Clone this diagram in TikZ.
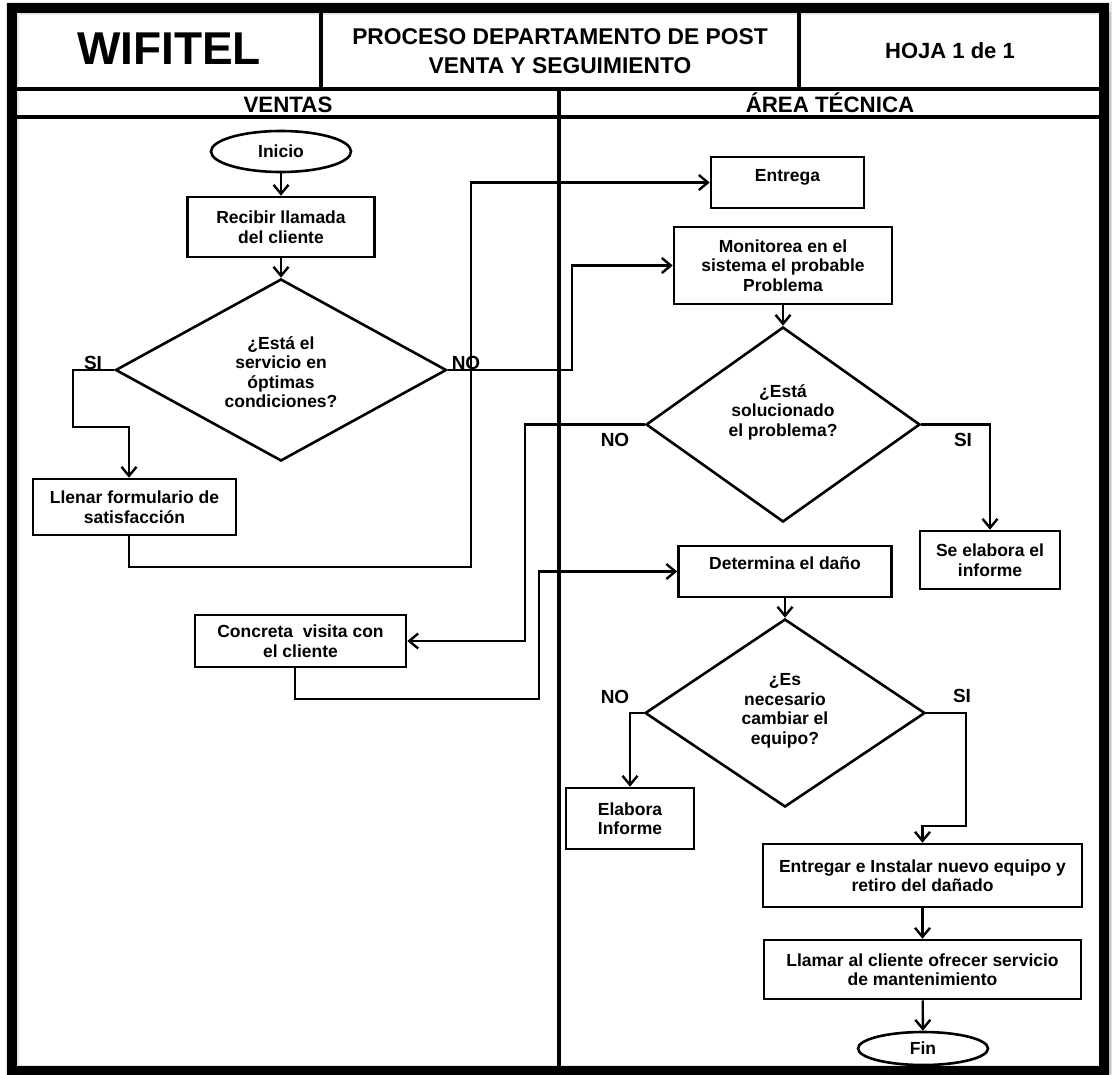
\documentclass[tikz,border=0pt]{standalone}
\usepackage{fontspec}
\setmainfont{Liberation Sans}
\usetikzlibrary{shapes.geometric,arrows.meta}

\begin{document}
\begin{tikzpicture}[x=1pt,y=-1pt,
  every node/.style={font=\bfseries},
  bodyfont/.style={font=\bfseries\fontsize{17.5}{19.5}\selectfont},
  procbox/.style={draw, rectangle, line width=2.6pt, inner sep=0pt, align=center, bodyfont},
  term/.style={draw, ellipse, line width=2.6pt, inner sep=0pt, bodyfont},
  decision/.style={draw, diamond, line width=2.6pt, inner sep=0pt},
  dtext/.style={align=center, inner sep=0pt, bodyfont},
  tag/.style={inner sep=0pt, font=\bfseries\fontsize{19}{21}\selectfont},
  lanefont/.style={anchor=base, inner sep=0pt, font=\bfseries\fontsize{22.3}{26}\selectfont},
  flow/.style={line width=2.4pt, -{Straight Barb[length=9pt,width=15pt]}},
  rule/.style={line width=4pt},
]
\useasboundingbox (0,0) rectangle (1118,1074);

% faint halo and heavy outer frame
\draw[line width=13pt, black!10] (12,8) rectangle (1105,1071);
\fill[black!25] (1108,12) rectangle (1111,1074);
\draw[line width=10pt] (12,8) rectangle (1104,1071);

% header rows and lane divider
\draw[rule] (17,89) -- (1099,89);
\draw[rule] (17,117) -- (1099,117);
\draw[rule] (321,13) -- (321,89);
\draw[rule] (799,13) -- (799,89);
\draw[rule] (559,89) -- (559,1066);

% header texts
\node[inner sep=0pt, font=\bfseries\fontsize{46}{50}\selectfont] (brand) at (169,49) {WIFITEL};
\node[align=center, inner sep=0pt, font=\bfseries\fontsize{22.8}{29}\selectfont] (title) at (560,51) {PROCESO DEPARTAMENTO DE POST\\VENTA Y SEGUIMIENTO};
\node[inner sep=0pt, font=\bfseries\fontsize{22}{26}\selectfont] (sheet) at (950,51) {HOJA 1 de 1};
\node[lanefont] (laneA) at (288,112) {VENTAS};
\node[lanefont] (laneB) at (830,112) {ÁREA TÉCNICA};

% sales lane
\node[term, minimum width=140pt, minimum height=41pt] (inicio) at (281,151.5) {Inicio};
\node[procbox, minimum width=187pt, minimum height=60pt] (recibir) at (281,227) {Recibir llamada\\del cliente};
\node[decision, minimum width=331pt, minimum height=182pt] (d1) at (281,370) {};
\node[dtext] (d1txt) at (281,372) {¿Está el\\servicio en\\óptimas\\condiciones?};
\node[procbox, minimum width=203pt, minimum height=56pt] (llenar) at (134.5,507) {Llenar formulario de\\satisfacción};
\node[procbox, minimum width=211pt, minimum height=52pt] (visita) at (300.5,641) {Concreta\ \ visita con\\el cliente};

% technical lane
\node[procbox, minimum width=153pt, minimum height=51pt, text height=12pt, text depth=15pt] (entrega) at (787.5,182.5) {Entrega};
\node[procbox, minimum width=218pt, minimum height=77pt] (monitor) at (783,265.5) {Monitorea en el\\sistema el probable\\Problema};
\node[decision, minimum width=274pt, minimum height=195pt] (d2) at (783,424.5) {};
\node[dtext] (d2txt) at (783,412) {¿Está\\solucionado\\el problema?};
\node[procbox, minimum width=140pt, minimum height=58pt] (informe) at (990,560) {Se elabora el\\informe};
\node[procbox, minimum width=213pt, minimum height=51pt, text height=12pt, text depth=16.6pt] (dano) at (785,571.5) {Determina el daño};
\node[decision, minimum width=280pt, minimum height=188pt] (d3) at (785,713) {};
\node[dtext] (d3txt) at (785,711) {¿Es\\necesario\\cambiar el\\equipo?};
\node[procbox, minimum width=128pt, minimum height=61pt] (elabora) at (630,818.5) {Elabora\\Informe};
\node[procbox, minimum width=319pt, minimum height=63pt] (instalar) at (922.5,875.5) {Entregar e Instalar nuevo equipo y\\retiro del dañado};
\node[procbox, minimum width=317pt, minimum height=59pt] (llamar) at (922.5,969.5) {Llamar al cliente ofrecer servicio\\de mantenimiento};
\node[term, minimum width=130pt, minimum height=33pt] (fin) at (923,1048.5) {Fin};

% branch labels
\node[tag] (si1) at (93,363) {SI};
\node[tag] (no1) at (466,363) {NO};
\node[tag] (no2) at (615,440) {NO};
\node[tag] (si2) at (963,440) {SI};
\node[tag] (no3) at (615,697) {NO};
\node[tag] (si3) at (962,696) {SI};

% connectors
\draw[flow] (inicio) -- (recibir);
\draw[flow] (recibir) -- (d1);
\draw[flow] (d1.west) -- (73,370) -- (73,427) -| ([xshift=-5.5pt]llenar.north);
\draw[flow] ([xshift=-5.5pt]llenar.south) |- (471,567) |- (entrega.west);
\draw[flow] (d1.east) -- (572,370) |- (monitor.west);
\draw[flow] (monitor) -- (d2);
\draw[flow] (d2.west) -- (525,424.5) |- (visita.east);
\draw[flow] (d2.east) -| (informe.north);
\draw[flow] ([xshift=-5.5pt]visita.south) |- (539,699) |- (dano.west);
\draw[flow] (dano) -- (d3);
\draw[flow] (d3.west) -| (elabora.north);
\draw[flow] (d3.east) -- (966,713) -- (966,826) -| (instalar.north);
\draw[flow] (instalar) -- (llamar);
\draw[flow] (llamar) -- (fin);
\end{tikzpicture}
\end{document}
